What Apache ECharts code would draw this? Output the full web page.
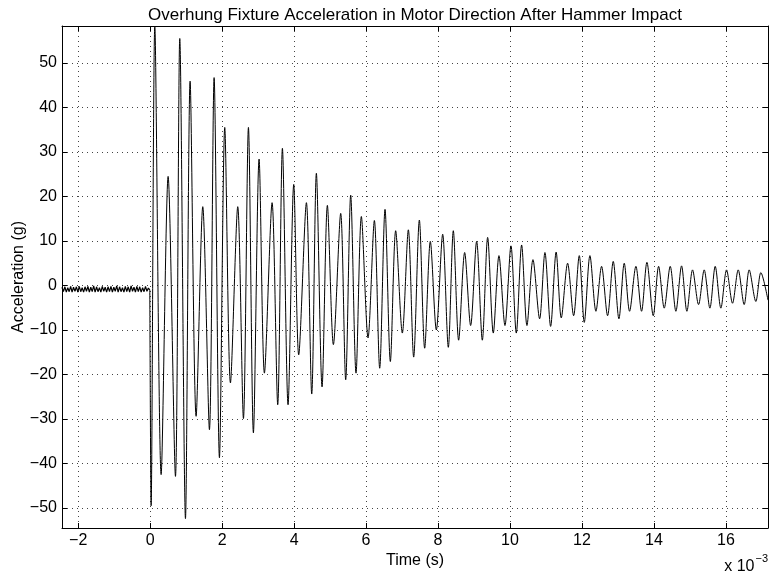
<!DOCTYPE html>
<html>
<head>
<meta charset="utf-8">
<script src="https://cdn.jsdelivr.net/npm/echarts@6/dist/echarts.min.js"></script>
<style>
html,body{margin:0;padding:0;background:#fff;}
#chart{width:769px;height:573px;}
</style>
</head>
<body>
<div id="chart"></div>
<script>
// Time in units of 1e-3 s, acceleration in g
var preTime = [-2.45,-2.41,-2.37,-2.33,-2.29,-2.25,-2.21,-2.17,-2.13,-2.09,-2.05,-2.01,-1.97,-1.93,-1.89,-1.85,-1.81,-1.77,-1.73,-1.69,
  -1.65,-1.61,-1.57,-1.53,-1.49,-1.45,-1.41,-1.37,-1.33,-1.29,-1.25,-1.21,-1.17,-1.13,-1.09,-1.05,-1.01,-0.97,-0.93,-0.89,
  -0.85,-0.81,-0.77,-0.73,-0.69,-0.65,-0.61,-0.57,-0.53,-0.49,-0.45,-0.41,-0.37,-0.33,-0.29,-0.25,-0.21,-0.17,-0.13,-0.09,-0.05,-0.01];
var preAccel = [-0.4,-1.4,-0.3,-1.5,-0.5,-1.4,-0.2,-1.5,-0.4,-1.3,-0.3,-1.5,-0.2,-1.4,-0.5,-1.5,-0.3,-1.3,-0.2,-1.5,
  -0.4,-1.4,-0.1,-1.5,-0.3,-1.4,-0.5,-1.5,-0.2,-1.3,-0.4,-1.5,-0.3,-1.4,-0.2,-1.5,-0.4,-1.3,-0.1,-1.5,
  -0.3,-1.4,-0.5,-1.5,-0.2,-1.4,-0.3,-1.5,-0.1,-1.3,-0.4,-1.5,-0.2,-1.4,-0.3,-1.5,-0.5,-1.4,-0.2,-1.3,-0.6,-1.0];

var postTime = [-0.01,0.027,0.129,0.305,0.499,0.703,0.823,0.981,1.110,1.277,1.462,1.647,1.777,1.925,2.073,2.231,2.434,2.592,2.731,2.869,
  3.027,3.175,3.388,3.545,3.675,3.832,3.990,4.128,4.342,4.490,4.619,4.777,4.925,5.092,5.295,5.434,5.573,5.721,5.869,6.055,
  6.231,6.379,6.527,6.675,6.823,7.008,7.175,7.323,7.481,7.629,7.786,7.953,8.129,8.286,8.425,8.573,8.740,8.906,9.073,9.231,
  9.379,9.536,9.693,9.860,10.027,10.175,10.323,10.471,10.638,10.823,10.971,11.129,11.282,11.425,11.601,11.768,11.925,12.064,12.221,12.388,
  12.545,12.712,12.869,13.027,13.175,13.323,13.499,13.656,13.805,13.981,14.130,14.286,14.453,14.610,14.768,14.916,15.073,15.240,15.397,15.555,
  15.703,15.860,16.018,16.184,16.342,16.508,16.647,16.832,16.971,17.17];
var postAccel = [-1.0,-49.5,58.3,-42.5,24.5,-42.9,55.5,-52.4,45.9,-29.4,17.7,-32.4,46.7,-38.7,35.5,-21.9,17.7,-29.9,35.5,-33.1,
  28.4,-19.7,18.6,-26.8,30.8,-26.8,22.7,-15.6,18.6,-24.4,25.2,-22.8,18.0,-13.3,16.2,-21.2,20.3,-19.7,15.5,-11.8,
  14.6,-18.6,17.1,-17.1,12.3,-10.7,12.5,-16.1,14.7,-14.1,9.9,-10.0,11.5,-13.9,12.3,-12.3,7.4,-9.0,9.9,-12.3,
  10.8,-10.7,6.7,-9.0,8.9,-10.7,9.1,-9.0,5.8,-7.5,7.4,-9.2,7.5,-7.3,5.0,-6.8,6.7,-8.3,6.7,-5.8,
  4.3,-6.8,5.4,-7.5,5.0,-5.8,4.3,-5.8,5.2,-6.8,4.3,-5.1,4.3,-5.8,4.4,-5.8,3.5,-4.3,3.5,-5.1,
  4.3,-5.1,3.5,-4.0,3.5,-4.3,3.5,-3.6,2.9,-3.3];

var titleText = 'Overhung Fixture Acceleration in Motor Direction After Hammer Impact';
var xName = 'Time (s)';
var yName = 'Acceleration (g)';
var xRange = [-2.45, 17.17];
var yRange = [-54.5, 58.3];

var prePoints = [];
for (var i = 0; i < preTime.length; i++) prePoints.push([preTime[i], preAccel[i]]);
var postPoints = [];
for (var j = 0; j < postTime.length; j++) postPoints.push([postTime[j], postAccel[j]]);

var FONT = '"Liberation Sans", Arial, Helvetica, sans-serif';
var FS = 16;
function fmt(v) { return String(v).replace('-', '\u2212'); }
var grid = { left: 62, right: 1, top: 26, bottom: 45, containLabel: false, outerBoundsMode: 'none' };
var gridLine = { show: true, lineStyle: { color: '#444', type: [1, 4], width: 1 } };
var tick = { show: true, inside: true, length: 5, lineStyle: { color: '#000' } };
var axLine = { show: true, onZero: false, lineStyle: { color: '#000', width: 1 } };

var chart = echarts.init(document.getElementById('chart'), null, { renderer: 'canvas' });
chart.setOption({
  animation: false,
  backgroundColor: '#fff',
  title: {
    text: titleText, left: 410, top: 2, textAlign: 'center',
    textStyle: { fontFamily: FONT, fontSize: 17, fontWeight: 'normal', color: '#000' }
  },
  grid: grid,
  xAxis: [{
    type: 'value', min: xRange[0], max: xRange[1], splitNumber: 10,
    name: xName, nameLocation: 'middle', nameGap: 25, nameMoveOverlap: false,
    nameTextStyle: { fontFamily: FONT, fontSize: FS, color: '#000' },
    axisLine: axLine, axisTick: tick,
    axisLabel: { show: true, color: '#000', fontFamily: FONT, fontSize: FS, margin: 5,
      showMinLabel: false, showMaxLabel: false, formatter: fmt },
    splitLine: gridLine
  }, {
    type: 'value', position: 'top', min: xRange[0], max: xRange[1], splitNumber: 10,
    axisLine: axLine, axisTick: tick,
    axisLabel: { show: false }, splitLine: { show: false }
  }],
  yAxis: [{
    type: 'value', min: yRange[0], max: yRange[1], splitNumber: 11,
    name: yName, nameLocation: 'middle', nameGap: 35, nameRotate: 90, nameMoveOverlap: false,
    nameTextStyle: { fontFamily: FONT, fontSize: FS, color: '#000' },
    axisLine: axLine, axisTick: tick,
    axisLabel: { show: true, color: '#000', fontFamily: FONT, fontSize: FS, margin: 5,
      showMinLabel: false, showMaxLabel: false, formatter: fmt },
    splitLine: gridLine
  }, {
    type: 'value', position: 'right', min: yRange[0], max: yRange[1], splitNumber: 11,
    axisLine: axLine, axisTick: tick,
    axisLabel: { show: false }, splitLine: { show: false }
  }],
  graphic: [{
    type: 'text', right: 1, top: 553,
    style: {
      text: '{a|x 10}{s|\u22123}',
      rich: {
        a: { fontFamily: FONT, fontSize: FS, fill: '#000', padding: [8, 0, 0, 0] },
        s: { fontFamily: FONT, fontSize: 11, fill: '#000', padding: [0, 0, 8, 1] }
      }
    }
  }],
  series: [{
    type: 'line', xAxisIndex: 0, yAxisIndex: 0,
    data: prePoints, showSymbol: false, symbol: 'none', smooth: false, clip: true,
    lineStyle: { color: '#000', width: 1.2 }
  }, {
    type: 'line', xAxisIndex: 0, yAxisIndex: 0,
    data: postPoints, showSymbol: false, symbol: 'none', smooth: 0.3, clip: true,
    lineStyle: { color: '#000', width: 1 }
  }]
});
</script>
</body>
</html>
